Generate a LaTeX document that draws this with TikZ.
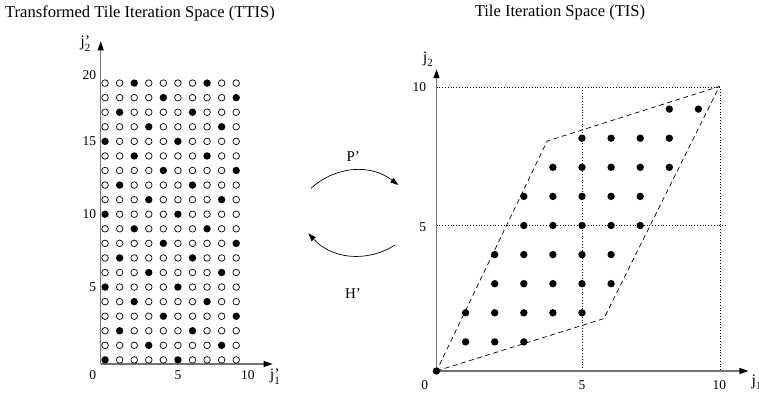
\documentclass[tikz,border=0pt]{standalone}
\usepackage{fontspec}
\setmainfont{Liberation Serif}
\usetikzlibrary{arrows.meta, positioning}

\newcommand{\jprime}[1]{j\rlap{\raisebox{0.5pt}{'}}\raisebox{-4.5pt}{\fontsize{11}{12}\selectfont #1}}
\newcommand{\jsub}[1]{j\raisebox{-4.5pt}{\fontsize{11}{12}\selectfont #1}}

\begin{document}
\begin{tikzpicture}[x=1pt, y=1pt,
    axis/.style={draw=black!55, line width=1.1pt, -{Triangle[black, length=9pt, width=6pt]}},
    map/.style={line width=0.7pt, -{Triangle[length=8pt, width=5.5pt]}},
    opendot/.style={circle, draw, line width=0.7pt, inner sep=0pt, minimum size=6.6pt},
    fulldot/.style={circle, fill, inner sep=0pt, minimum size=7.4pt},
    ticklab/.style={font=\fontsize{13.5}{15}\selectfont, inner sep=0pt},
    title/.style={font=\fontsize{16.6}{19}\selectfont, inner sep=0pt},
    axlab/.style={font=\fontsize{16}{18}\selectfont, inner sep=0pt},
    gridline/.style={dotted, line width=0.8pt},
    tile/.style={dashed, line width=0.7pt, dash pattern=on 5pt off 3.5pt}
]
    \useasboundingbox (0,0) rectangle (759,396);

    % titles
    \node[title] (ttis) at (140,383) {Transformed Tile Iteration Space (TTIS)};
    \node[title] (tis) at (560,383) {Tile Iteration Space (TIS)};

    % TTIS
    \begin{scope}[shift={(100.7,32)}, x=14.57pt, y=14.57pt]
        \coordinate (o1) at (0,0);
        \coordinate (x1) at (11.8,0);
        \coordinate (y1) at (0,22.15);
        \draw[axis] (o1) -- (x1);
        \draw[axis] (o1) -- (y1);
        \foreach \r in {0,...,19}
            \foreach \c in {0,...,9} {
                \pgfmathtruncatemacro{\hit}{mod(3*\r-\c+50,5)==0}
                \ifnum\hit=1
                    \node[fulldot] (t\c-\r) at (\c+0.3,\r+0.28) {};
                \else
                    \node[opendot] (t\c-\r) at (\c+0.3,\r+0.28) {};
                \fi
            }
        \node[ticklab] (t0) at (-0.55,-0.78) {0};
        \node[ticklab] (tx5) at (5.3,-0.78) {5};
        \node[ticklab] (tx10) at (10.1,-0.78) {10};
        \foreach \v/\h in {5/5.28, 10/10.28, 15/15.28, 20/19.85}
            \node[ticklab, anchor=east] (ty\v) at (-0.3,\h) {\v};
        \node[axlab] (j1p) at (11.95,-0.85) {\jprime{1}};
        \node[axlab] (j2p) at (-1.05,22.0) {\jprime{2}};
    \end{scope}

    % TIS
    \begin{scope}[shift={(436.5,25)}, x=29.1pt, y=29.1pt]
        \coordinate (o2) at (0,0);
        \coordinate (x2) at (10.72,0);
        \coordinate (y2) at (0,10.37);
        \draw[gridline] (0,9.75) -| (9.75,0);
        \draw[gridline] (5,9.75) -- (5,0);
        \draw[gridline] (0,5) -- (10,5);
        \draw[axis] (o2) -- (x2);
        \draw[axis] (o2) -- (y2);
        \draw[tile] (0,0) -- (5.75,1.8) -- (9.72,9.78) -- (3.8,7.9) -- cycle;
        \foreach \r/\a/\b in {0/0/0, 1/1/3, 2/1/5, 3/2/6, 4/2/6, 5/3/7, 6/3/7, 7/4/8, 8/5/8, 9/8/9}
            \foreach \c in {\a,...,\b}
                \node[fulldot] (s\c-\r) at (\c,\r) {};
        \node[ticklab] (s0) at (-0.4,-0.47) {0};
        \node[ticklab] (sx5) at (5,-0.47) {5};
        \node[ticklab] (sx10) at (9.72,-0.47) {10};
        \node[ticklab, anchor=east] (sy5) at (-0.35,4.95) {5};
        \node[ticklab, anchor=east] (sy10) at (-0.35,9.76) {10};
        \node[axlab] (j1) at (11.0,-0.38) {\jsub{1}};
        \node[axlab] (j2) at (-0.3,10.72) {\jsub{2}};
    \end{scope}

    % mappings
    \coordinate (pa) at (311,207.7);
    \coordinate (pb) at (398.3,211);
    \coordinate (ha) at (395,151);
    \coordinate (hb) at (308.3,162.7);
    \draw[map] (pa) to[bend left=40] (pb);
    \draw[map] (ha) to[bend left=40] (hb);
    \node[axlab, font=\fontsize{15}{17}\selectfont] (pmap) at (353.3,239.3) {P'};
    \node[axlab, font=\fontsize{15}{17}\selectfont] (hmap) at (353,102.7) {H'};
\end{tikzpicture}
\end{document}
